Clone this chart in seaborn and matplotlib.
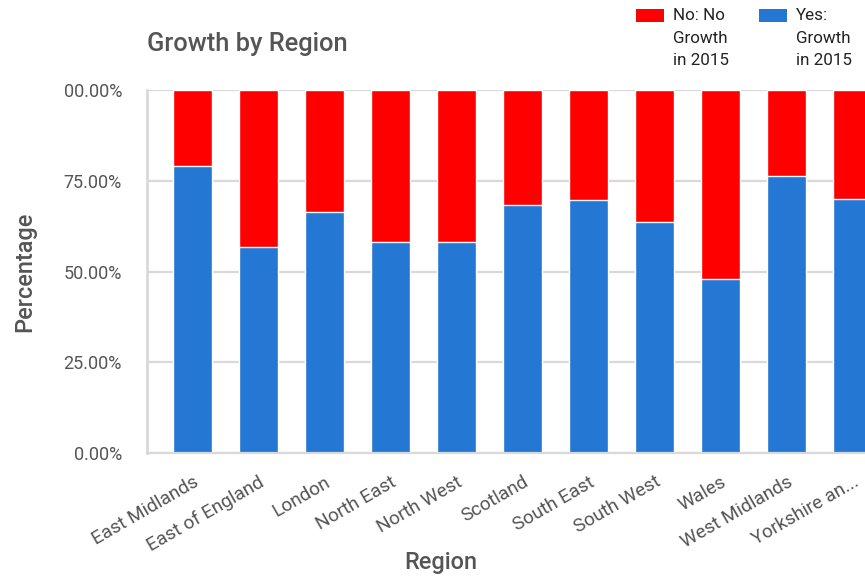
import matplotlib
matplotlib.use("Agg")
import matplotlib.pyplot as plt
from matplotlib.patches import Rectangle
import seaborn as sns
import numpy as np

# Share of businesses reporting growth in 2015, by region (percent)
regions = ["East Midlands", "East of England", "London", "North East", "North West",
           "Scotland", "South East", "South West", "Wales", "West Midlands",
           "Yorkshire an..."]
yes_growth = [79.0, 56.8, 66.5, 58.2, 58.2, 68.4, 69.8, 63.7, 48.0, 76.4, 69.9]
no_growth = [21.0, 43.2, 33.5, 41.8, 41.8, 31.6, 30.2, 36.3, 52.0, 23.6, 30.1]

y_ticks = [0, 25, 50, 75, 100]
y_tick_labels = ["0.00%", "25.00%", "50.00%", "75.00%", "00.00%"]

series_labels = ["No: No\nGrowth\nin 2015", "Yes:\nGrowth\nin 2015"]
colors = {"no": "#ff0000", "yes": "#2477d3"}

sns.set_theme(style="white")
plt.rcParams["font.family"] = ["Roboto", "DejaVu Sans"]

W, H, DPI = 865, 578, 100
fig = plt.figure(figsize=(W / DPI, H / DPI), dpi=DPI)

def px(v):
    return v * 72 / DPI

# plot area (pixels): left 147, top 90, bottom 453; right side runs past the canvas
left, right, top, bottom = 147, 898, 90, 453
ax = fig.add_axes([left / W, 1 - bottom / H, (right - left) / W, (bottom - top) / H])

totals = np.array(yes_growth) + np.array(no_growth)
sns.barplot(x=regions, y=totals, color=colors["no"], saturation=1, width=0.6,
            edgecolor="white", linewidth=1.0, ax=ax, zorder=3)
sns.barplot(x=regions, y=yes_growth, color=colors["yes"], saturation=1, width=0.6,
            edgecolor="white", linewidth=1.0, ax=ax, zorder=4)

ax.set_xlim(-0.69, 10.69)
ax.set_ylim(0, 100)
ax.set_yticks(y_ticks)
ax.set_yticklabels(y_tick_labels)
ax.grid(axis="y", color="#d9d9d9", linewidth=1.6, zorder=0)
ax.grid(axis="x", visible=False)
for s in ["top", "right"]:
    ax.spines[s].set_visible(False)
ax.spines["bottom"].set_color("#d9d9d9")
ax.spines["bottom"].set_linewidth(1.6)
ax.spines["left"].set_color("#d9d9d9")
ax.spines["left"].set_linewidth(2)
ax.spines["bottom"].set_zorder(5)

ax.tick_params(axis="y", length=0, pad=px(25), labelsize=px(18), labelcolor="#555555")
ax.tick_params(axis="x", length=0, pad=px(20), labelsize=px(19), labelcolor="#555555")
for lab in ax.get_xticklabels():
    lab.set_rotation(30)
    lab.set_ha("right")
    lab.set_va("top")
    lab.set_rotation_mode("anchor")

ax.set_xlabel("")
ax.set_ylabel("")

fig.text(147 / W, 1 - 44 / H, "Growth by Region", fontsize=px(25.5), fontweight="medium",
         color="#555555", ha="left", va="center")
fig.text(25 / W, 1 - 271.5 / H, "Percentage", fontsize=px(23.5), fontweight="medium",
         color="#555555", rotation=90, ha="center", va="center")
fig.text(441 / W, 1 - 563 / H, "Region", fontsize=px(23.5), fontweight="medium",
         color="#555555", ha="center", va="center")

# legend: swatch aligned with the first text line, three-line labels
legend_items = [(636, series_labels[0], colors["no"]), (759, series_labels[1], colors["yes"])]
for x0, label, col in legend_items:
    fig.patches.append(Rectangle((x0 / W, 1 - 22 / H), 28 / W, 13 / H,
                                 transform=fig.transFigure, facecolor=col,
                                 edgecolor="none"))
    fig.text((x0 + 37) / W, 1 - 8.5 / H, label, fontsize=px(17), color="#222222",
             ha="left", va="top", linespacing=1.62)

fig.savefig("out.png", dpi=DPI)
